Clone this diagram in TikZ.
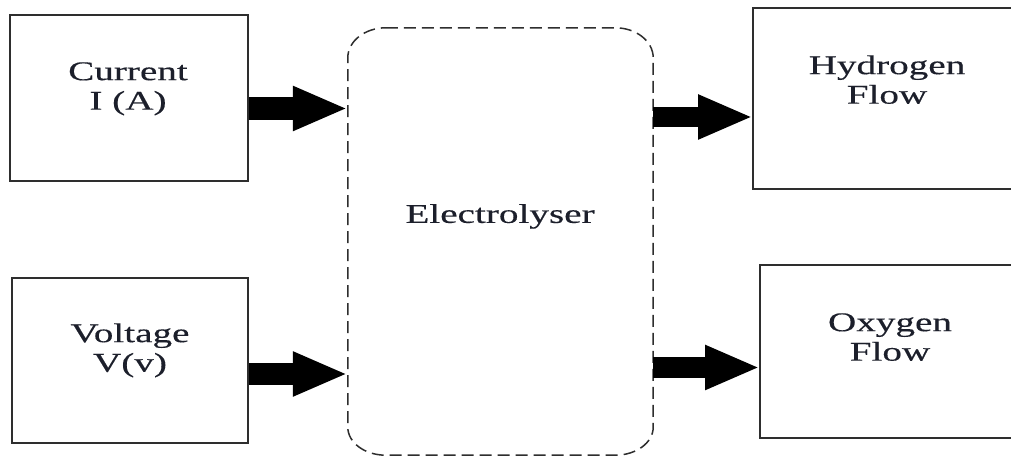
\documentclass[tikz,border=0pt]{standalone}
\usepackage{fontspec}
\usepackage{graphicx}
\setmainfont{Liberation Serif}[FakeBold=0.3]
\usetikzlibrary{arrows.meta}
\definecolor{txt}{HTML}{1C1F2B}
\definecolor{edge}{HTML}{2E2E2E}
\newcommand{\wide}[1]{\scalebox{1.45}[1]{\begin{tabular}{@{}c@{}}#1\end{tabular}}}
\tikzset{
  x=1pt, y=1pt,
  boxnode/.style={draw=edge, line width=2pt, rectangle, inner sep=0pt},
  openbox/.style={draw=none, rectangle, inner sep=0pt},
  openedge/.style={draw=edge, line width=2pt},
  lbl/.style={text=txt, font=\fontsize{27}{29.5}\selectfont, inner sep=0pt},
  elec/.style={draw=edge, line width=1.5pt, dash pattern=on 12pt off 6pt},
  blk/.style={line width=#1, -{Triangle[length=55pt, width=41pt]}, black},
  blk/.default=22pt
}
\begin{document}
\begin{tikzpicture}
\useasboundingbox (0,0) rectangle (1011,457);
\clip (0,0) rectangle (1011,457);
\fill[white] (0,0) rectangle (1011,457);
% boxes
\node[boxnode, minimum width=238pt, minimum height=166pt] (cur) at (129,359) {};
\node[boxnode, minimum width=236pt, minimum height=165pt] (vol) at (130,96.5) {};
\node[openbox, anchor=west, minimum width=400pt, minimum height=181pt] (hyd) at (753,358.5) {};
\node[openbox, anchor=west, minimum width=400pt, minimum height=173pt] (oxy) at (760,105.5) {};
\draw[openedge] (hyd.north east) -- (hyd.north west) -- (hyd.south west) -- (hyd.south east);
\draw[openedge] (oxy.north east) -- (oxy.north west) -- (oxy.south west) -- (oxy.south east);
% electrolyser
\node[minimum width=305pt, minimum height=427pt, inner sep=0pt] (el) at (500.5,215.5) {};
\draw[elec] ([xshift=38pt]el.north west) -- ([xshift=-38pt]el.north east)
  arc[start angle=90, end angle=0, x radius=38pt, y radius=30pt]
  -- ([yshift=28pt]el.south east)
  arc[start angle=0, end angle=-90, x radius=38pt, y radius=28pt]
  -- ([xshift=38pt]el.south west)
  arc[start angle=270, end angle=180, x radius=38pt, y radius=28pt]
  -- ([yshift=-30pt]el.north west)
  arc[start angle=180, end angle=90, x radius=38pt, y radius=30pt] -- cycle;
% labels
\node[lbl] (tcur) at (128,368) {\wide{Current\\I (A)}};
\node[lbl] (tvol) at (130,106) {\wide{Voltage\\V(v)}};
\node[lbl] (tel) at (500,240) {\wide{Electrolyser}};
\node[lbl] (thyd) at (887,374) {\wide{Hydrogen\\Flow}};
\node[lbl] (toxy) at (890,117) {\wide{Oxygen\\Flow}};
% arrows
\coordinate (a1) at (0,348.5);
\coordinate (a2) at (0,83);
\coordinate (a3) at (0,340);
\coordinate (a4) at (0,89.5);
\draw[blk=23pt] (cur.east |- a1) -- (el.west |- a1);
\draw[blk=22pt] (vol.east |- a2) -- (el.west |- a2);
\draw[blk=20pt] (el.east |- a3) -- (hyd.west |- a3);
\draw[blk=21pt] (el.east |- a4) -- (oxy.west |- a4);
\end{tikzpicture}
\end{document}
